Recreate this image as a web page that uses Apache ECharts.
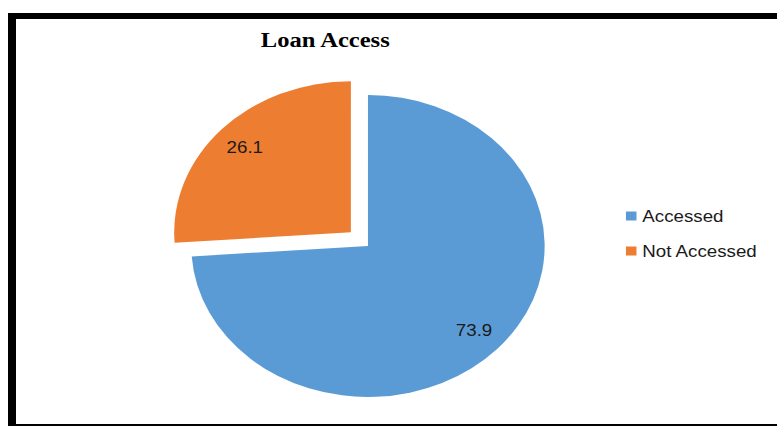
<!DOCTYPE html>
<html>
<head>
<meta charset="utf-8">
<script src="https://cdn.jsdelivr.net/npm/echarts@6/dist/echarts.min.js"></script>
<style>
html,body{margin:0;padding:0;background:#fff;width:777px;height:426px;overflow:hidden;}
#frame{position:absolute;left:8px;top:13px;width:800px;height:417px;border:6px solid #000;border-left-width:8px;box-sizing:border-box;}
#chart{position:absolute;left:0;top:0;width:664px;height:426px;transform:scaleX(1.17);transform-origin:0 0;}
</style>
</head>
<body>
<div id="frame"></div>
<div id="chart"></div>
<script>
const titleText = "Loan Access";
const categories = ["Accessed", "Not Accessed"];
const values = [73.9, 26.1];
const colors = ["#5B9BD5", "#ED7D31"];
const explodedIndex = 1;

const chart = echarts.init(document.getElementById('chart'), null, {renderer: 'svg'});

function makeData(withColor) {
  return categories.map((c, i) => ({
    name: c,
    value: values[i],
    selected: i === explodedIndex,
    itemStyle: withColor ? {color: colors[i]} : {color: 'rgba(0,0,0,0)'}
  }));
}

chart.setOption({
  backgroundColor: 'transparent',
  animation: false,
  title: {
    text: titleText,
    left: 273,
    top: 25,
    textAlign: 'center',
    textStyle: {fontFamily: 'Liberation Serif', fontWeight: 'bold', fontSize: 21, color: '#000'}
  },
  legend: {
    orient: 'vertical',
    left: 530,
    top: 203,
    itemWidth: 9,
    itemHeight: 9,
    itemGap: 19,
    icon: 'rect',
    data: categories,
    textStyle: {fontFamily: 'Liberation Sans', fontSize: 16, color: '#1a1a1a'}
  },
  series: [
    {
      type: 'pie',
      center: [314.5, 246],
      radius: [0, 151],
      startAngle: 90,
      selectedMode: 'single',
      selectedOffset: 20,
      label: {show: false},
      labelLine: {show: false},
      silent: true,
      data: makeData(true)
    },
    {
      type: 'pie',
      center: [314.5, 246],
      radius: [96, 146],
      startAngle: 90,
      selectedMode: 'single',
      selectedOffset: 20,
      silent: true,
      label: {
        show: true,
        position: 'inside',
        formatter: '{c}',
        fontFamily: 'Liberation Sans',
        fontSize: 16,
        color: '#1a1a1a'
      },
      labelLine: {show: false},
      data: makeData(false)
    }
  ]
});
</script>
</body>
</html>
